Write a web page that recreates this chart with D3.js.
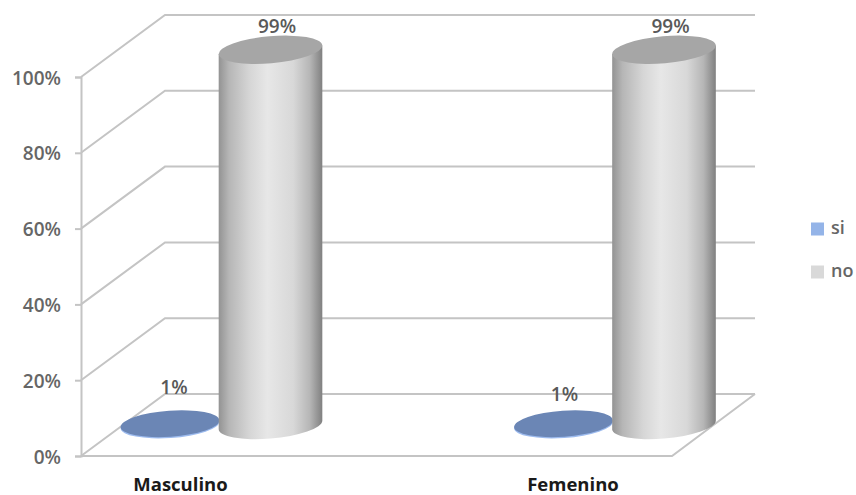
<!DOCTYPE html>
<html>
<head>
<meta charset="utf-8">
<script src="https://cdnjs.cloudflare.com/ajax/libs/d3/7.8.5/d3.min.js"></script>
<style>
  html, body { margin: 0; padding: 0; background: #fff; }
  svg { display: block; }
  text { font-family: "Open Sans", sans-serif; }
</style>
</head>
<body>
<svg id="chart" width="856" height="495"></svg>
<script>
// Chart data
const categories = ["Masculino", "Femenino"];
const seriesNames = ["si", "no"];
const siValues = [1, 1];
const noValues = [99, 99];
const yTicks = [0, 20, 40, 60, 80, 100];

const svg = d3.select("#chart");

// Plot geometry: front plane of the box plus the depth vector to its back plane
const frontLeft = 81, frontRight = 672;
const depthX = 84, depthY = -62;
const y = d3.scaleLinear().domain([0, 100]).range([456, 77]);
const xCluster = d3.scalePoint().domain(categories).range([220, 613.5]);
const xLabel = d3.scalePoint().domain(categories).range([180.5, 573]);
const seriesOffset = d3.scaleOrdinal().domain(seriesNames).range([-50, 50.5]);
const legendY = d3.scalePoint().domain(seriesNames).range([229, 272]);
const siColor = "#94b4e8", noColor = "#d9d9d9";

const gridColor = "#c4c4c4";
const grid = svg.append("g").attr("fill", "none").attr("stroke", gridColor).attr("stroke-width", 2);

// Wall gridlines: diagonal along the side wall, then horizontal along the back wall
grid.selectAll("path.wall").data(yTicks).join("path")
  .attr("class", "wall")
  .attr("d", t => d3.line()([
    [frontLeft, y(t)],
    [frontLeft + depthX, y(t) + depthY],
    [755, y(t) + depthY]
  ]));

// Floor edges
grid.append("path").attr("d", d3.line()([
  [frontLeft, y(0)], [frontRight, y(0)], [frontRight + depthX - 1, y(0) + depthY]
]));

// Value axis
const axis = d3.axisLeft(y).tickValues(yTicks).tickFormat(d => d + "%").tickSize(6).tickPadding(14);
const axisG = svg.append("g").attr("transform", `translate(${frontLeft},0)`).call(axis);
axisG.selectAll("path, line").attr("stroke", gridColor).attr("stroke-width", 2);
axisG.selectAll("text")
  .attr("fill", "#666").attr("y", 1).style("font-size", "19px").style("font-weight", 600)
  .style("font-family", '"Open Sans", sans-serif');

// Shaded gradient running across the cylinder bodies
const defs = svg.append("defs");
const bodyGrad = defs.append("linearGradient").attr("id", "bodyGrad");
[[0, "#939393"], [0.1, "#b6b6b6"], [0.3, "#d6d6d6"], [0.47, "#e7e7e7"],
 [0.72, "#d8d8d8"], [0.88, "#b6b6b6"], [1, "#808080"]].forEach(([o, c]) =>
  bodyGrad.append("stop").attr("offset", o).attr("stop-color", c));

// Tilted elliptical cross-section of the tall cylinders
const tilt = -5, ry = 13.5;
const theta = tilt * Math.PI / 180;

// The flat discs sit a little closer to horizontal
const discTilt = -4, discRy = 13;

// Horizontal half-extent and offset of the vertical tangent points of the ellipse
function tangent(rx) {
  const t = Math.atan(-(ry / rx) * Math.tan(theta));
  return {
    dx: rx * Math.cos(t) * Math.cos(theta) - ry * Math.sin(t) * Math.sin(theta),
    dy: rx * Math.cos(t) * Math.sin(theta) + ry * Math.sin(t) * Math.cos(theta)
  };
}

function cylinder(g, cx, value, rx) {
  const base = y(0) + depthY / 2;
  const top = base - (y(0) - y(value));
  const tan = tangent(rx);
  g.append("path")
    .attr("fill", "url(#bodyGrad)")
    .attr("d", `M${cx - tan.dx},${top - tan.dy}` +
      `L${cx - tan.dx},${base - tan.dy}` +
      `A${rx},${ry} ${tilt} 0 0 ${cx + tan.dx},${base + tan.dy}` +
      `L${cx + tan.dx},${top + tan.dy}Z`);
  g.append("ellipse")
    .attr("cx", cx).attr("cy", top).attr("rx", rx).attr("ry", ry)
    .attr("transform", `rotate(${tilt} ${cx} ${top})`)
    .attr("fill", "#a6a6a6");
}

function disc(g, cx, value, rx) {
  const top = y(0) + depthY / 2 - (y(0) - y(value));
  const base = y(0) + depthY / 2;
  // Thin lighter rim under the flat disc
  g.append("ellipse")
    .attr("cx", cx).attr("cy", base).attr("rx", rx).attr("ry", discRy)
    .attr("transform", `rotate(${discTilt} ${cx} ${base})`)
    .attr("fill", "#9dbbee");
  g.append("ellipse")
    .attr("cx", cx).attr("cy", top + 2.5).attr("rx", rx).attr("ry", discRy)
    .attr("transform", `rotate(${discTilt} ${cx} ${top + 2.5})`)
    .attr("fill", "#6b86b5");
}

const bars = svg.append("g");
categories.forEach((cat, i) => {
  const c = xCluster(cat);
  disc(bars.append("g"), c + seriesOffset("si"), siValues[i], 49.5);
  cylinder(bars.append("g"), c + seriesOffset("no"), noValues[i], 52);
});

// Value labels
const labelStyle = s => s.attr("fill", "#595959").attr("text-anchor", "middle")
  .style("font-size", "19px").style("font-weight", 600);
svg.append("g").selectAll("text").data(categories).join("text")
  .call(labelStyle)
  .attr("x", (d, i) => xCluster(d) + [-46, -49][i])
  .attr("y", (d, i) => [394, 401][i])
  .text((d, i) => siValues[i] + "%");
svg.append("g").selectAll("text").data(categories).join("text")
  .call(labelStyle)
  .attr("x", d => xCluster(d) + 57)
  .attr("y", 33)
  .text((d, i) => noValues[i] + "%");

// Category labels
svg.append("g").selectAll("text").data(categories).join("text")
  .attr("x", d => xLabel(d)).attr("y", 491)
  .attr("text-anchor", "middle").attr("fill", "#1a1a1a")
  .style("font-size", "18.5px").style("font-weight", 700)
  .text(d => d);

// Legend
const legend = svg.append("g").selectAll("g").data(seriesNames).join("g")
  .attr("transform", d => `translate(811,${legendY(d)})`);
legend.append("rect").attr("x", 0).attr("y", -6.5).attr("width", 13).attr("height", 13)
  .attr("fill", d => d === "si" ? siColor : noColor);
legend.append("text").attr("x", 20).attr("y", 5)
  .attr("fill", "#666").style("font-size", "18px").style("font-weight", 600)
  .text(d => d);
</script>
</body>
</html>
